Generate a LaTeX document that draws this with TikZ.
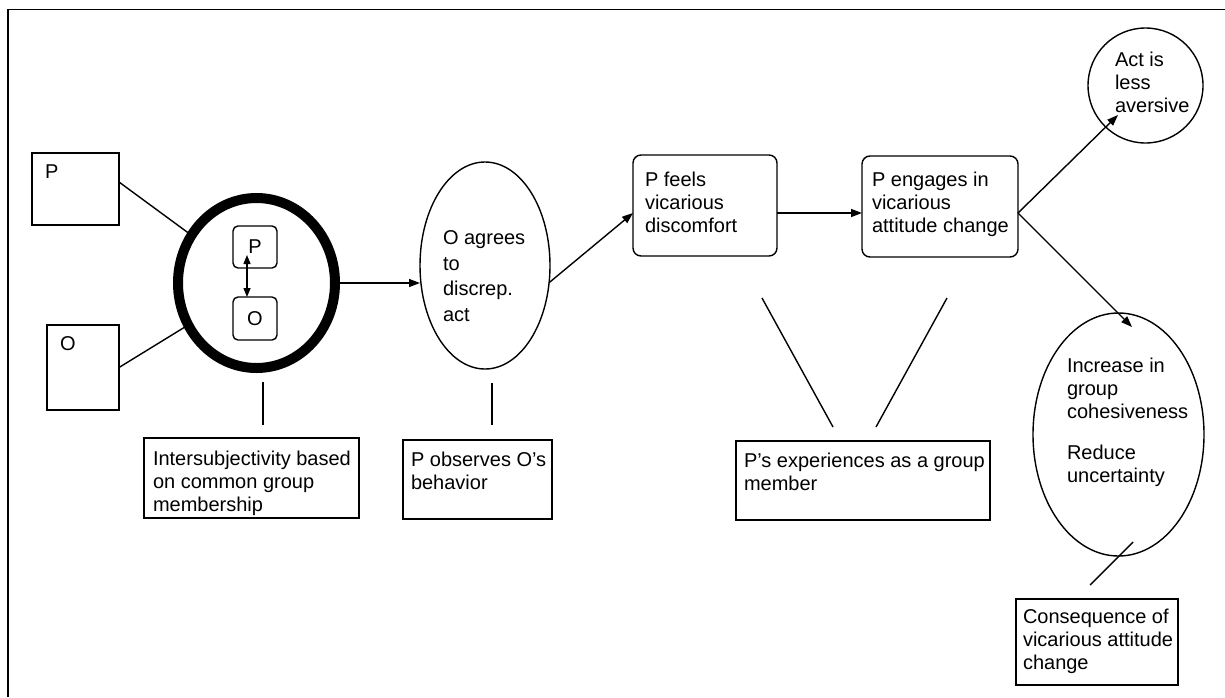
\documentclass[tikz,border=0pt]{standalone}
\usepackage{fontspec}
\setmainfont{Liberation Sans}
\usetikzlibrary{shapes.geometric,arrows.meta}
\newcommand\tx{\fontsize{20}{23}\selectfont}
\newcommand\bx[5]{\parbox[c][#2pt][t]{#1pt}{\raggedright\leftskip=#3pt\vspace*{#4pt}#5}}
\begin{document}
\begin{tikzpicture}[x=1pt,y=-1pt, line width=1.4pt,
  every node/.style={inner sep=0pt, outer sep=0pt, font=\tx},
  sq/.style={draw, rectangle},
  rbox/.style={draw, rectangle, rounded corners=8pt},
  ibox/.style={draw, rectangle, rounded corners=5pt, minimum width=44pt},
  ell/.style={draw, ellipse},
  lbl/.style={anchor=north west, align=left, inner sep=0pt, font=\tx},
  arr/.style={-{Triangle[length=11pt,width=8pt]}},
  darr/.style={{Triangle[length=9pt,width=7pt]}-{Triangle[length=9pt,width=7pt]}},
]
\useasboundingbox (0,0) rectangle (1225,697);
\draw (8,697) -- (8,9.5) -- (1225,9.5);

% left group
\node[sq] (bP) at (75.5,189) {\bx{87}{72}{13}{12}{P}};
\node[sq] (bO) at (83,367.5) {\bx{72}{85}{13}{12}{O}};
\node[ell, line width=10pt, minimum width=157pt, minimum height=170pt] (ring) at (256.5,283) {};
\node[ibox, minimum height=42pt] (iP) at (255,247) {P};
\node[ibox, minimum height=43pt] (iO) at (255,318.5) {O};
\node[sq] (bI) at (251.5,478) {\bx{215}{80}{9}{13}{Intersubjectivity based\\on common group\\membership}};

% observed act
\node[ell, minimum width=130pt, minimum height=207pt] (eO) at (485,265.5) {};
\node[lbl, font=\fontsize{20}{25.5}\selectfont] (tO) at (443,231) {O agrees\\to\\discrep.\\act};
\node[sq] (bB) at (477.5,479.5) {\bx{149}{79}{8}{12}{P observes O’s\\behavior}};

% vicarious process
\node[rbox] (bF) at (705,205.5) {\bx{144}{101}{12}{17}{P feels\\vicarious\\discomfort}};
\node[rbox] (bE) at (940,206.5) {\bx{156}{101}{10}{16}{P engages in\\vicarious\\attitude change}};
\node[sq] (bX) at (863,480.5) {\bx{254}{79}{8}{12}{P’s experiences as a group\\member}};

% consequences
\node[ell, minimum width=115pt, minimum height=115pt] (cA) at (1145.5,85.5) {};
\node[lbl] (tA) at (1115,52) {Act is\\less\\aversive};
\node[ell, minimum width=171pt, minimum height=243pt] (eI) at (1118.5,434.5) {};
\node[lbl] (tI) at (1067,358) {Increase in\\group\\cohesiveness\\[18pt]Reduce\\uncertainty};
\node[sq] (bC) at (1097,642) {\bx{162}{86}{7}{10}{Consequence of\\vicarious attitude\\change}};

% connectors
\draw ([yshift=7pt]bP.east) -- (ring);
\draw (bO.east) -- (ring);
\draw[darr] ([shift={(-8pt,-8pt)}]iP.center) -- ([xshift=-8pt]iO.north);
\draw ([xshift=6.5pt,yshift=-14pt]ring.south) -- ([xshift=11.5pt,yshift=13pt]bI.north);
\draw[arr] (ring.east) -- (ring.east -| eO.west);
\draw ([xshift=7pt,yshift=-14pt]eO.south) -- ([xshift=14.5pt,yshift=15pt]bB.north);
\draw[arr] (eO.-15) -- ([yshift=-7.5pt]bF.west);
\draw[arr] ([yshift=-7.5pt]bF.east) -- ([yshift=-7.5pt]bF.east -| bE.west);
\draw ([shift={(57pt,-42pt)}]bF.south) -- ([shift={(-30pt,14pt)}]bX.north);
\draw ([shift={(7pt,-41pt)}]bE.south) -- ([shift={(13pt,14pt)}]bX.north);
\coordinate (j) at ([yshift=-6.5pt]bE.east);
\draw[arr] (j) -- ([shift={(-27.5pt,-29.5pt)}]cA.center);
\draw[arr] (j) -- ([shift={(13.5pt,107.5pt)}]eI.center);
\draw ([shift={(14.5pt,-107.5pt)}]eI.center) -- ([shift={(-7pt,14pt)}]bC.north);
\end{tikzpicture}
\end{document}
